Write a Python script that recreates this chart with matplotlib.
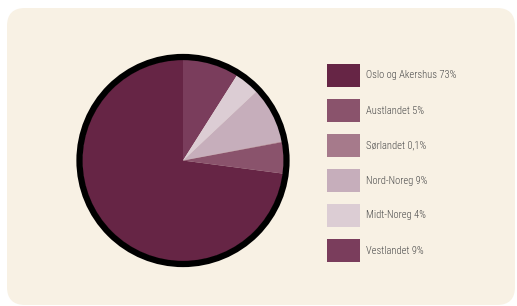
import matplotlib
matplotlib.use("Agg")
import matplotlib.pyplot as plt
from matplotlib.patches import FancyBboxPatch, Circle, Rectangle

labels = ["Vestlandet 9%", "Midt-Noreg 4%", "Nord-Noreg 9%", "Sørlandet 0,1%", "Austlandet 5%", "Oslo og Akershus 73%"]
values = [9, 4, 9, 0.1, 5, 73]
colors = ["#7a3d5c", "#dccdd4", "#c6aebb", "#a67a8b", "#8a536c", "#662545"]
legend_order = [5, 4, 3, 2, 1, 0]

W, H = 517, 306
fig = plt.figure(figsize=(W / 100, H / 100), dpi=100)
fig.patch.set_facecolor("white")
ax = fig.add_axes([0, 0, 1, 1])
ax.set_xlim(0, W)
ax.set_ylim(0, H)
ax.set_aspect("equal")
ax.axis("off")

bg = FancyBboxPatch((7, 1), 508, 297, boxstyle="round,pad=0,rounding_size=18",
                    facecolor="#f8f1e4", edgecolor="none")
ax.add_patch(bg)

cx, cy = 183, H - 160.5
r = 101
ax.pie(values, colors=colors, startangle=90, counterclock=False,
       center=(cx, cy), radius=r, wedgeprops=dict(linewidth=0))
ax.add_patch(Circle((cx, cy), r + 2.5, facecolor="none", edgecolor="black", linewidth=4.5))
ax.set_xlim(0, W)
ax.set_ylim(0, H)

font = ["Roboto Condensed", "Liberation Sans Narrow", "DejaVu Sans"]
for i, idx in enumerate(legend_order):
    top = 64 + i * 35
    ax.add_patch(Rectangle((327, H - top - 23), 33, 23, facecolor=colors[idx], edgecolor="none"))
    ax.text(366, H - top - 11.5, labels[idx], fontsize=7.6, color="#4a4a4a",
            va="center", ha="left", family=font, weight="light")

fig.savefig("out.png", dpi=100, facecolor="white")
